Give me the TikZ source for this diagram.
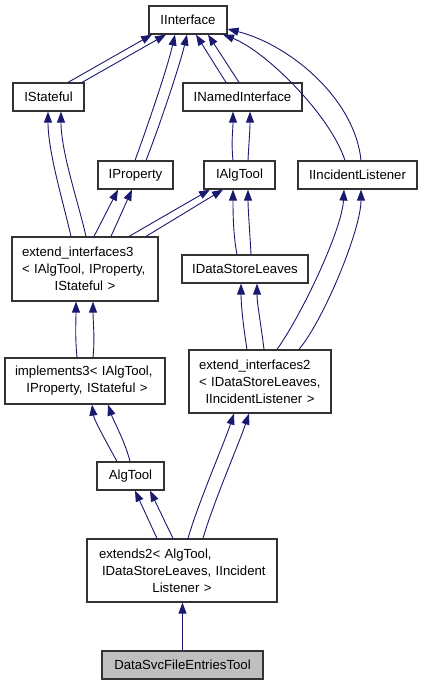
\documentclass[tikz,border=0pt]{standalone}
\usepackage{fontspec}
\setmainfont{Liberation Sans}
\usetikzlibrary{arrows.meta}
\definecolor{edgeblue}{HTML}{191970}
\definecolor{rootgray}{HTML}{BFBFBF}
\begin{document}
\begin{tikzpicture}[x=1pt,y=-1pt,
  cls/.style={draw=black!80, line width=1.2pt, fill=white, inner sep=0pt,
    minimum height=28pt, font=\fontsize{13.2}{17}\selectfont},
  mcls/.style={cls, align=left, inner xsep=10pt, inner ysep=0pt},
  inh/.style={draw=edgeblue, line width=0.9pt, -{Triangle[length=11pt,width=8pt]}}
]
\useasboundingbox (0,0) rectangle (421,685);

% nodes
\node[cls, minimum width=78pt] (iif) at (188,20) {IInterface};
\node[cls, minimum width=71pt] (ist) at (48.5,97) {IStateful};
\node[cls, minimum width=119pt] (ini) at (242.5,97) {INamedInterface};
\node[cls, minimum width=75pt] (ipr) at (135.5,175) {IProperty};
\node[cls, minimum width=71pt] (ial) at (239.5,175) {IAlgTool};
\node[cls, minimum width=119pt] (iil) at (357.5,175) {IIncidentListener};
\node[mcls, text width=126pt, minimum height=64pt] (ei3) at (85,269)
  {extend\_interfaces3\\<~IAlgTool,~IProperty,\\\makebox[126pt][c]{IStateful~>}};
\node[cls, minimum width=126pt] (ids) at (245,269) {IDataStoreLeaves};
\node[mcls, text width=140pt, minimum height=46pt] (im3) at (85,381)
  {implements3<~IAlgTool,\\\makebox[140pt][c]{\hspace*{4pt}IProperty,~IStateful~>}};
\node[mcls, text width=122pt, minimum height=63pt] (ei2) at (260,381.5)
  {extend\_interfaces2\\<~IDataStoreLeaves,\\\makebox[122pt][c]{IIncidentListener~>}};
\node[cls, minimum width=67pt] (alg) at (130.5,476) {AlgTool};
\node[mcls, text width=170pt, minimum height=63pt] (ex2) at (182,570.5)
  {\hspace*{2pt}extends2<~AlgTool,\\\hspace*{5pt}IDataStoreLeaves,~IIncident\\\makebox[170pt][c]{Listener~>}};
\node[cls, minimum width=161pt, fill=rootgray] (dsv) at (182.5,665) {DataSvcFileEntriesTool};

% edges
\draw[inh] ([xshift=19.5pt]ist.north) -- ([xshift=-36pt]iif.south);
\draw[inh] ([xshift=33.5pt]ist.north) -- ([xshift=-22pt]iif.south);

\draw[inh] ([xshift=-0.5pt]ipr.north) .. controls +(12,-33) and +(-8,35) .. ([xshift=-13pt]iif.south);
\draw[inh] ([xshift=10.5pt]ipr.north) .. controls +(13,-33) and +(-7,30) .. ([xshift=-1pt]iif.south);

\draw[inh] ([xshift=-16.5pt]ini.north) -- ([xshift=8pt]iif.south);
\draw[inh] ([xshift=-3.5pt]ini.north) -- ([xshift=20pt]iif.south);

\draw[inh] ([xshift=-12.5pt]iil.north) .. controls +(-15,-46) and +(42,16) .. ([xshift=35pt]iif.south);
\draw[inh] ([xshift=3.5pt]iil.north) .. controls +(-6,-61) and +(63,16) .. ([yshift=-9pt]iif.east);

\draw[inh] ([xshift=-6.5pt]ial.north) .. controls +(-2,-20) and +(0,20) .. ([xshift=-9.5pt]ini.south);
\draw[inh] ([xshift=8.5pt]ial.north) .. controls +(1,-20) and +(0,20) .. ([xshift=7.5pt]ini.south);

\draw[inh] ([xshift=-14pt]ei3.north) .. controls +(-8,-35) and +(0,40) .. ([xshift=-0.5pt]ist.south);
\draw[inh] ([xshift=1pt]ei3.north) .. controls +(-8,-35) and +(0,40) .. ([xshift=12.5pt]ist.south);

\draw[inh] ([xshift=9pt]ei3.north) -- ([xshift=-17.5pt]ipr.south);
\draw[inh] ([xshift=26pt]ei3.north) -- ([xshift=-3.5pt]ipr.south);

\draw[inh] ([xshift=44pt]ei3.north) -- ([xshift=-29.5pt]ial.south);
\draw[inh] ([xshift=61pt]ei3.north) -- ([xshift=-16.5pt]ial.south);

\draw[inh] ([xshift=-8pt]ids.north) .. controls +(-4,-20) and +(0,20) .. ([xshift=-6.5pt]ial.south);
\draw[inh] ([xshift=6pt]ids.north) .. controls +(-1,-20) and +(0,20) .. ([xshift=8.5pt]ial.south);

\draw[inh] ([xshift=-13pt]ei2.north) .. controls +(-4,-25) and +(0,20) .. ([xshift=-4pt]ids.south);
\draw[inh] ([xshift=4pt]ei2.north) .. controls +(-3,-25) and +(0,20) .. ([xshift=12pt]ids.south);

\draw[inh] ([xshift=17pt]ei2.north) .. controls +(25,-35) and +(-2,40) .. ([xshift=-13.5pt]iil.south);
\draw[inh] ([xshift=39pt]ei2.north) .. controls +(25,-30) and +(0,40) .. ([xshift=3.5pt]iil.south);

\draw[inh] ([xshift=-8pt]im3.north) .. controls +(-2,-20) and +(0,20) .. ([xshift=-9pt]ei3.south);
\draw[inh] ([xshift=8pt]im3.north) .. controls +(2,-20) and +(0,20) .. ([xshift=8pt]ei3.south);

\draw[inh] ([xshift=-13.5pt]alg.north) .. controls +(-10,-18) and +(2,15) .. ([xshift=7pt]im3.south);
\draw[inh] ([xshift=-0.5pt]alg.north) .. controls +(-5,-20) and +(5,15) .. ([xshift=23pt]im3.south);

\draw[inh] ([xshift=-25pt]ex2.north) -- ([xshift=4.5pt]alg.south);
\draw[inh] ([xshift=-9pt]ex2.north) -- ([xshift=19.5pt]alg.south);

\draw[inh] ([xshift=6pt]ex2.north) .. controls +(10,-35) and +(-10,30) .. ([xshift=-26pt]ei2.south);
\draw[inh] ([xshift=21pt]ex2.north) .. controls +(10,-35) and +(-10,30) .. ([xshift=-11pt]ei2.south);

\draw[inh] (dsv.north) -- (dsv.north |- ex2.south);
\end{tikzpicture}
\end{document}
